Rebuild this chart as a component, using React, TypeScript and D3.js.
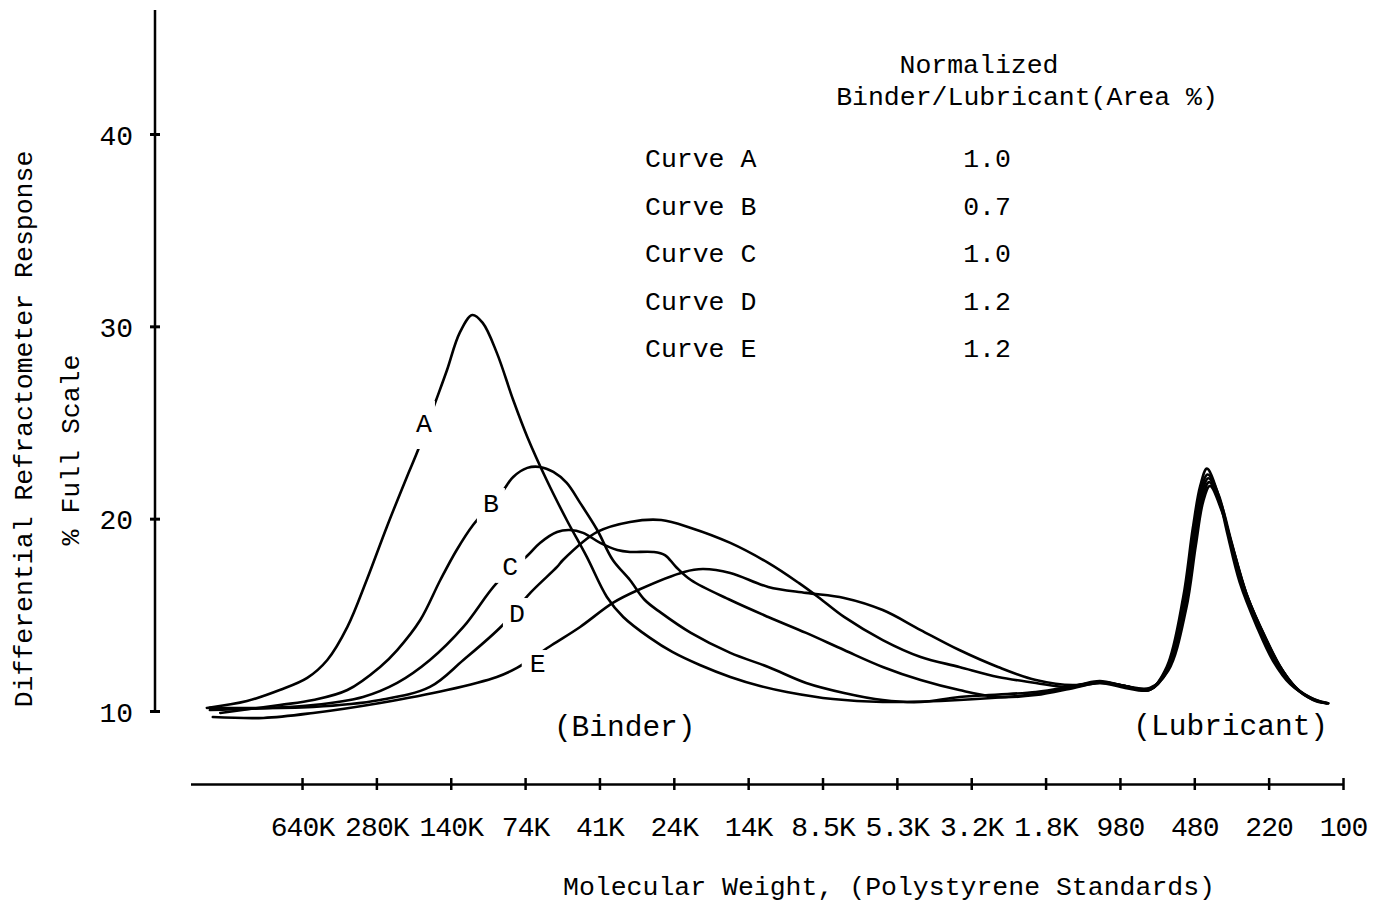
import { useEffect, useRef } from 'react'
import * as d3 from 'd3'

// elution position index -> molecular weight tick labels (polystyrene standards)
const MW_LABELS = ['640K', '280K', '140K', '74K', '41K', '24K', '14K', '8.5K', '5.3K', '3.2K', '1.8K', '980', '480', '220', '100']
const Y_TICKS = [10, 20, 30, 40]

// [position, % full scale]
const curveA: [number, number][] = [
  [-1.28, 10.16], [-0.74, 10.52], [-0.3, 11.09], [0.07, 11.72], [0.34, 12.65], [0.61, 14.37], [0.87, 16.81],
  [1.14, 19.57], [1.41, 22.17], [1.56, 23.57], [1.79, 26.02], [1.95, 27.73], [2.12, 29.66], [2.29, 30.59],
  [2.43, 30.18], [2.62, 28.62], [2.84, 26.17], [3.03, 24.25], [3.29, 22.01], [3.56, 19.93], [3.83, 18.01],
  [4.1, 15.93], [4.32, 14.89], [4.68, 13.8], [4.98, 13.07], [5.35, 12.39], [5.76, 11.77], [6.16, 11.3],
  [6.52, 10.99], [7.14, 10.62], [7.81, 10.47], [8.84, 10.57], [9.87, 10.88], [10.38, 11.25], [10.73, 11.46],
  [11.07, 11.3], [11.4, 11.1], [11.63, 12.3], [11.85, 15.9], [11.98, 19.5], [12.08, 21.7], [12.17, 22.6],
  [12.31, 21.4], [12.44, 19.3], [12.61, 16.7], [12.84, 14.4], [13.06, 12.6], [13.29, 11.4], [13.56, 10.7], [13.78, 10.4],
]

const curveB: [number, number][] = [
  [-1.1, 9.9], [-0.3, 10.31], [0.15, 10.57], [0.61, 11.09], [1.05, 12.29], [1.28, 13.17], [1.59, 14.73],
  [1.86, 16.81], [2.08, 18.37], [2.3, 19.67], [2.69, 21.39], [2.84, 22.17], [3.03, 22.64], [3.2, 22.69],
  [3.38, 22.43], [3.56, 21.86], [3.74, 20.82], [3.97, 19.41], [4.18, 17.85], [4.41, 16.81], [4.61, 15.77],
  [4.83, 15.1], [5.23, 14.06], [5.76, 13.02], [6.27, 12.29], [6.78, 11.46], [7.29, 10.94], [7.81, 10.57],
  [8.32, 10.47], [8.84, 10.73], [9.87, 10.99], [10.38, 11.3], [10.73, 11.51],
  [11.07, 11.3], [11.4, 11.1], [11.63, 12.2], [11.86, 15.7], [11.99, 19.3], [12.09, 21.5], [12.18, 22.3],
  [12.33, 21.2], [12.47, 19.1], [12.65, 16.5], [12.88, 14.3], [13.1, 12.5], [13.33, 11.3], [13.6, 10.6], [13.78, 10.4],
]

const curveC: [number, number][] = [
  [-1.24, 10.05], [0.15, 10.31], [0.82, 10.73], [1.28, 11.46], [1.72, 12.65], [2.17, 14.37], [2.62, 16.66],
  [3.04, 18.11], [3.2, 18.74], [3.43, 19.31], [3.6, 19.41], [3.78, 19.26], [4.01, 18.74], [4.24, 18.37],
  [4.41, 18.27], [4.72, 18.27], [4.88, 18.11], [5.03, 17.49], [5.23, 16.81], [5.76, 15.77], [6.27, 14.89],
  [6.78, 14.06], [7.29, 13.17], [7.81, 12.29], [8.32, 11.61], [8.84, 11.09], [9.36, 10.73], [9.87, 10.83],
  [10.38, 11.2], [10.73, 11.46],
  [11.07, 11.2], [11.4, 11.1], [11.64, 12.2], [11.87, 15.6], [12.0, 19.0], [12.1, 21.3], [12.19, 22.1],
  [12.35, 20.9], [12.5, 18.8], [12.68, 16.3], [12.92, 14.1], [13.14, 12.4], [13.37, 11.2], [13.62, 10.6], [13.8, 10.4],
]

const curveD: [number, number][] = [
  [-1.24, 10.16], [0.15, 10.21], [1.05, 10.57], [1.72, 11.25], [2.17, 12.65], [2.7, 14.47], [3.07, 16.14],
  [3.43, 17.49], [3.51, 17.85], [3.97, 19.31], [4.41, 19.83], [4.83, 19.93], [5.23, 19.52], [5.76, 18.74],
  [6.27, 17.7], [6.68, 16.66], [6.94, 15.93], [7.29, 14.89], [7.81, 13.69], [8.32, 12.81], [8.84, 12.29],
  [9.36, 11.77], [9.87, 11.46], [10.27, 11.25], [10.73, 11.51],
  [11.07, 11.3], [11.4, 11.1], [11.64, 12.1], [11.88, 15.4], [12.01, 18.8], [12.11, 21.1], [12.2, 21.9],
  [12.36, 20.6], [12.52, 18.4], [12.7, 16.1], [12.94, 13.9], [13.17, 12.2], [13.4, 11.1], [13.64, 10.5], [13.8, 10.4],
]

const curveE: [number, number][] = [
  [-1.2, 9.69], [-0.52, 9.64], [0.15, 9.9], [1.05, 10.42], [1.95, 11.09], [2.62, 11.77], [2.89, 12.24],
  [3.36, 13.43], [3.74, 14.37], [4.18, 15.62], [4.52, 16.29], [5.14, 17.23], [5.39, 17.38], [5.76, 17.18],
  [6.27, 16.45], [6.78, 16.14], [7.29, 15.88], [7.81, 15.25], [8.32, 14.21], [8.84, 13.17], [9.36, 12.29],
  [9.87, 11.61], [10.38, 11.35], [10.73, 11.56],
  [11.07, 11.3], [11.4, 11.2], [11.65, 12.1], [11.89, 15.3], [12.02, 18.6], [12.12, 20.9], [12.21, 21.7],
  [12.37, 20.4], [12.54, 18.2], [12.72, 15.9], [12.96, 13.8], [13.19, 12.1], [13.42, 11.0], [13.66, 10.5], [13.8, 10.4],
]

const CURVES = [curveA, curveB, curveC, curveD, curveE]
const CURVE_NAMES = ['A', 'B', 'C', 'D', 'E']
// where each curve letter sits on its line
const CURVE_LABEL_AT: [number, number][] = [[1.64, 24.87], [2.54, 20.71], [2.8, 17.44], [2.89, 14.99], [3.17, 12.39]]
const RATIOS = ['1.0', '0.7', '1.0', '1.2', '1.2']

const FONT = '"Liberation Mono", "DejaVu Sans Mono", monospace'

export default function App() {
  const svgRef = useRef<SVGSVGElement>(null)

  useEffect(() => {
    const svg = d3.select(svgRef.current)
    svg.selectAll('*').remove()

    const x = d3.scaleLinear().domain([-1.5, 14]).range([190.5, 1343])
    const y = d3.scaleLinear().domain([10, 40]).range([711, 134])
    const yTop = 10
    const axisX = 155
    const axisY = 784

    svg.append('rect').attr('width', 1375).attr('height', 904).attr('fill', '#fff')

    // Y axis
    svg.append('line')
      .attr('x1', axisX).attr('x2', axisX)
      .attr('y1', yTop).attr('y2', y(10))
      .attr('stroke', '#000').attr('stroke-width', 2.5)
    const yAxis = svg.append('g').attr('transform', `translate(${axisX},0)`)
      .call(d3.axisLeft(y).tickValues(Y_TICKS).tickSize(5).tickPadding(17).tickFormat(d3.format('d')))
    yAxis.select('.domain').remove()
    yAxis.selectAll('line').attr('x1', -5).attr('x2', 5).attr('stroke', '#000').attr('stroke-width', 3)
    yAxis.selectAll('text').attr('font-family', FONT).attr('font-size', 28).attr('fill', '#000').attr('dy', '0.36em')

    // X axis
    const xAxis = svg.append('g').attr('transform', `translate(0,${axisY})`)
      .call(d3.axisBottom(x).tickValues(d3.range(MW_LABELS.length)).tickFormat((d) => MW_LABELS[d as number])
        .tickSize(6).tickSizeOuter(0).tickPadding(26))
    xAxis.select('.domain').attr('stroke', '#000').attr('stroke-width', 2.5)
    xAxis.selectAll('line').attr('y1', -6).attr('y2', 6).attr('stroke', '#000').attr('stroke-width', 2.5)
    xAxis.selectAll('text')
      .attr('font-family', FONT).attr('font-size', 28).attr('letter-spacing', -0.9).attr('fill', '#000')

    // axis titles
    svg.append('text')
      .attr('transform', 'translate(25,429) rotate(-90)')
      .attr('text-anchor', 'middle').attr('dominant-baseline', 'central')
      .attr('font-family', FONT).attr('font-size', 26.5)
      .text('Differential Refractometer Response')
    svg.append('text')
      .attr('transform', 'translate(72,450) rotate(-90)')
      .attr('text-anchor', 'middle').attr('dominant-baseline', 'central')
      .attr('font-family', FONT).attr('font-size', 26.5)
      .text('% Full Scale')
    svg.append('text')
      .attr('x', 889).attr('y', 888)
      .attr('text-anchor', 'middle').attr('dominant-baseline', 'central')
      .attr('font-family', FONT).attr('font-size', 26.5)
      .text('Molecular Weight, (Polystyrene Standards)')

    // curves
    const line = d3.line<[number, number]>()
      .x((d) => x(d[0]))
      .y((d) => y(d[1]))
      .curve(d3.curveCatmullRom.alpha(0.5))

    svg.append('g').selectAll('path')
      .data(CURVES)
      .enter()
      .append('path')
      .attr('d', (d) => line(d))
      .attr('fill', 'none')
      .attr('stroke', '#000')
      .attr('stroke-width', 2.6)
      .attr('stroke-linejoin', 'round')
      .attr('stroke-linecap', 'round')

    // curve letters, with the line broken around them
    const gapSize = [[22, 48], [28, 34], [30, 30], [28, 34], [32, 30]]
    const labels = svg.append('g')
    CURVE_NAMES.forEach((name, i) => {
      const [px, py] = CURVE_LABEL_AT[i]
      const [w, h] = gapSize[i]
      labels.append('rect')
        .attr('x', x(px) - w / 2).attr('y', y(py) - h / 2)
        .attr('width', w).attr('height', h)
        .attr('fill', '#fff')
      labels.append('text')
        .attr('x', x(px)).attr('y', y(py))
        .attr('text-anchor', 'middle').attr('dominant-baseline', 'central')
        .attr('font-family', FONT).attr('font-size', 26.5)
        .text(name)
    })

    // region labels
    svg.append('text')
      .attr('x', x(4.34)).attr('y', y(9.12))
      .attr('text-anchor', 'middle').attr('dominant-baseline', 'central')
      .attr('font-family', FONT).attr('font-size', 29.5)
      .text('(Binder)')
    svg.append('text')
      .attr('x', x(12.49)).attr('y', y(9.17))
      .attr('text-anchor', 'middle').attr('dominant-baseline', 'central')
      .attr('font-family', FONT).attr('font-size', 29.5)
      .text('(Lubricant)')

    // ratio table
    const table = svg.append('g').attr('font-family', FONT).attr('font-size', 26.5)
    table.append('text').attr('x', 979).attr('y', 66)
      .attr('text-anchor', 'middle').attr('dominant-baseline', 'central')
      .text('Normalized')
    table.append('text').attr('x', 1027).attr('y', 98)
      .attr('text-anchor', 'middle').attr('dominant-baseline', 'central')
      .text('Binder/Lubricant(Area %)')
    CURVE_NAMES.forEach((name, i) => {
      const ry = 160 + i * 47.5
      table.append('text').attr('x', 645).attr('y', ry)
        .attr('dominant-baseline', 'central')
        .text(`Curve ${name}`)
      table.append('text').attr('x', 987).attr('y', ry)
        .attr('text-anchor', 'middle').attr('dominant-baseline', 'central')
        .text(RATIOS[i])
    })
  }, [])

  return (
    <svg
      ref={svgRef}
      width={1375}
      height={904}
      style={{ position: 'absolute', left: 0, top: 0, display: 'block' }}
    />
  )
}
